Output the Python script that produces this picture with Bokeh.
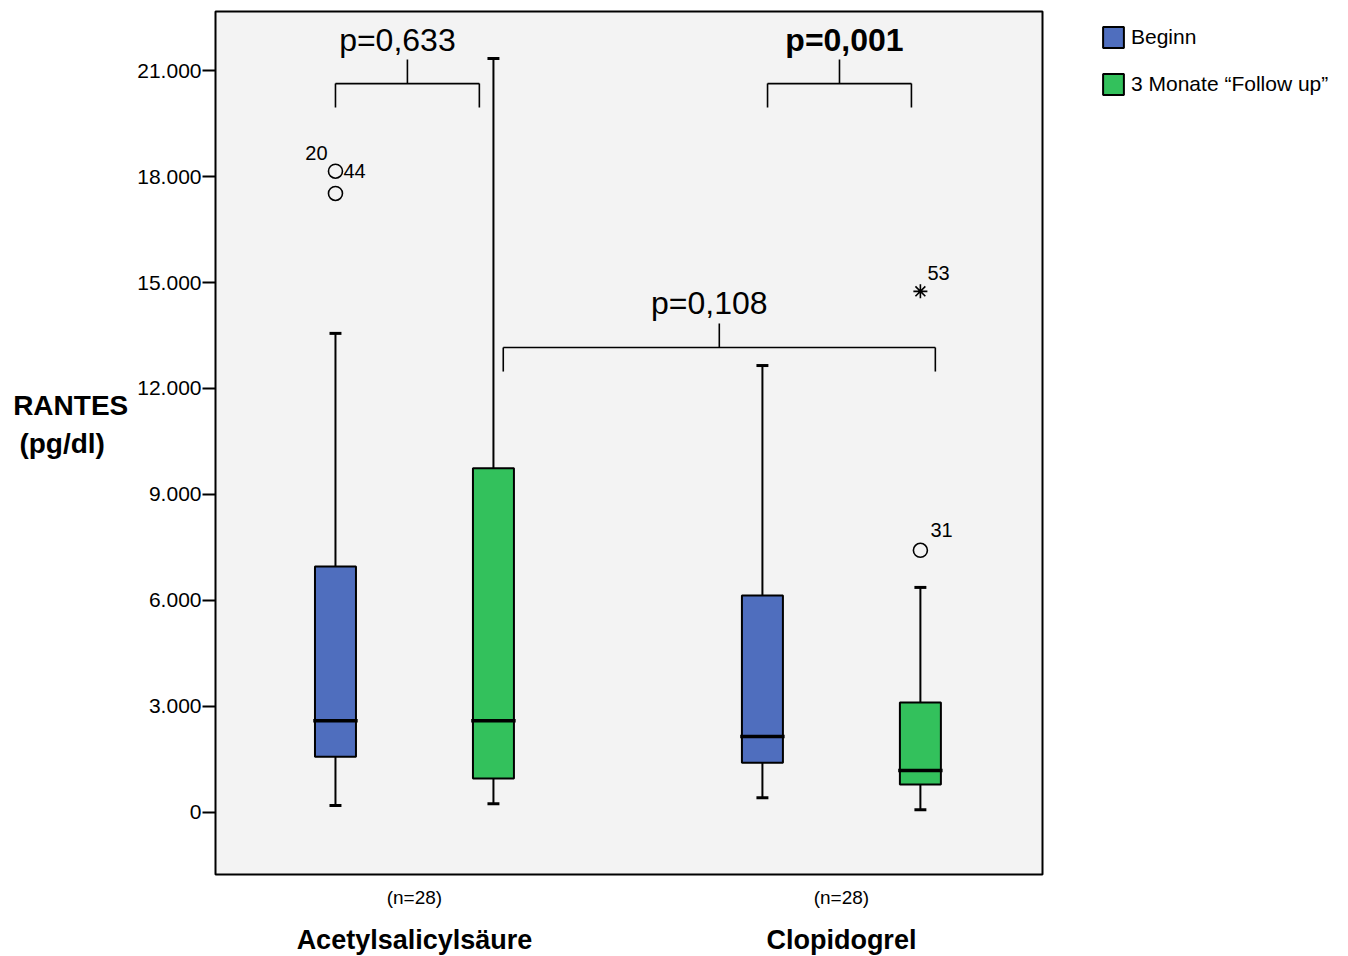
from bokeh.plotting import figure
from bokeh.models import (Range1d, FixedTicker, LinearAxis, Legend,
                          LegendItem, ColumnDataSource)
from bokeh.core.properties import value
from bokeh.embed import file_html
from bokeh.resources import INLINE

FONT = "Liberation Sans"
NB = "\u00a0"

# ---------------- data ----------------
groups = ["Acetylsalicylsäure", "Clopidogrel"]
group_n = ["(n=28)", "(n=28)"]
series = ["Beginn", "3 Monate \u201cFollow up\u201d"]
series_colors = ["#4f6ebe", "#33c15c"]
y_title_lines = ["RANTES", "(pg/dl)"]

box_group = [0, 0, 1, 1]
box_series = [0, 1, 0, 1]
whisker_low = [200, 250, 420, 80]
q1 = [1580, 960, 1410, 790]
median = [2600, 2600, 2150, 1190]
q3 = [6960, 9740, 6140, 3110]
whisker_high = [13560, 21340, 12650, 6370]

out_box = [0, 0, 3, 3]
out_value = [18150, 17520, 7420, 14750]
out_label = ["44", "20", "31", "53"]
out_marker = ["circle", "circle", "circle", "asterisk"]
out_label_dx = [8, -19, 10, 7]
out_label_dy = [0, -40, -20, -18]
out_label_align = ["left", "center", "left", "left"]

tick_values = [0, 3000, 6000, 9000, 12000, 15000, 18000, 21000]
tick_labels = ["0", "3.000", "6.000", "9.000", "12.000", "15.000", "18.000", "21.000"]

br_left = [-0.185, 0.827, 0.208]
br_right = [0.152, 1.164, 1.220]
br_y = [20630, 20630, 13160]
br_text = ["p=0,633", "p=0,001", "p=0,108"]
br_style = ["normal", "bold", "normal"]
br_text_dx = [-10, 5, -10]

# ---------------- layout constants ----------------
series_offset = [-0.185, 0.185]
box_w = 0.096
cap_w = 0.028
drop = 680

p = figure(frame_width=827, frame_height=863, width=1348, height=956,
           x_range=Range1d(-0.466, 1.471), y_range=Range1d(-1755, 22670),
           x_axis_location=None, y_axis_location="left",
           output_backend="svg", toolbar_location=None,
           min_border_left=215, min_border_top=11, min_border_right=306,
           min_border_bottom=82)
p.background_fill_color = "#f3f3f3"
p.border_fill_color = "white"
p.outline_line_color = "black"
p.outline_line_width = 2
p.xgrid.visible = False
p.ygrid.visible = False

ya = p.yaxis[0]
ya.ticker = FixedTicker(ticks=tick_values)
ya.major_label_overrides = {v: s for v, s in zip(tick_values, tick_labels)}
ya.axis_line_color = None
ya.major_tick_in = 0
ya.major_tick_out = 13
ya.major_tick_line_width = 2
ya.minor_tick_line_color = None
ya.major_label_text_font = FONT
ya.major_label_text_font_size = "21px"
ya.major_label_text_color = "black"
ya.major_label_standoff = 1
# second line padded so the two lines look centred; blank last line lifts the block
ya.axis_label = y_title_lines[0] + "\n" + y_title_lines[1] + NB * 3 + "\n" + NB
ya.axis_label_orientation = "horizontal"
ya.axis_label_text_font = FONT
ya.axis_label_text_font_size = "28px"
ya.axis_label_text_font_style = "bold"
ya.axis_label_text_color = "black"
ya.axis_label_standoff = 6
ya.axis_label_text_align = "center"

for labels, size, style, standoff in [(group_n, "19px", "normal", 12),
                                      (groups, "27px", "bold", 14)]:
    ax = LinearAxis(ticker=FixedTicker(ticks=[0, 1]),
                    major_label_overrides={i: t for i, t in enumerate(labels)},
                    axis_line_color=None, major_tick_line_color=None,
                    major_tick_out=0, major_tick_in=0,
                    minor_tick_line_color=None,
                    major_label_text_font=FONT,
                    major_label_text_font_size=size,
                    major_label_text_font_style=style,
                    major_label_text_color="black",
                    major_label_standoff=standoff)
    p.add_layout(ax, "below")

def bx(i):
    return box_group[i] + series_offset[box_series[i]]

legend_items = []
for s in range(len(series)):
    idx = [i for i in range(len(box_group)) if box_series[i] == s]
    xs = [bx(i) for i in idx]
    src = ColumnDataSource(dict(
        x=xs,
        lo=[whisker_low[i] for i in idx], q1=[q1[i] for i in idx],
        med=[median[i] for i in idx], q3=[q3[i] for i in idx],
        hi=[whisker_high[i] for i in idx],
        cl=[x - cap_w / 2 for x in xs], cr=[x + cap_w / 2 for x in xs],
        ml=[x - box_w / 2 - 0.004 for x in xs], mr=[x + box_w / 2 + 0.004 for x in xs],
    ))
    p.segment(x0="x", y0="q3", x1="x", y1="hi", source=src, line_color="black", line_width=2)
    p.segment(x0="x", y0="q1", x1="x", y1="lo", source=src, line_color="black", line_width=2)
    p.segment(x0="cl", y0="hi", x1="cr", y1="hi", source=src, line_color="black", line_width=3)
    p.segment(x0="cl", y0="lo", x1="cr", y1="lo", source=src, line_color="black", line_width=3)
    r = p.vbar(x="x", width=box_w, bottom="q1", top="q3", source=src,
               fill_color=series_colors[s], line_color="black", line_width=2)
    p.segment(x0="ml", y0="med", x1="mr", y1="med", source=src, line_color="black", line_width=3.5)
    legend_items.append(LegendItem(label=series[s], renderers=[r]))

# outliers
osrc = ColumnDataSource(dict(
    x=[bx(b) for b in out_box], y=out_value, label=out_label, marker=out_marker,
    dx=out_label_dx, dy=out_label_dy, align=out_label_align))
p.scatter(x="x", y="y", marker="marker", source=osrc, size=14, fill_color=None,
          line_color="black", line_width=1.6)
p.text(x="x", y="y", text="label", x_offset="dx", y_offset="dy", text_align="align",
       text_baseline="middle", source=osrc, text_font=value(FONT),
       text_font_size="20px", text_color="black")

# brackets
bsrc = ColumnDataSource(dict(
    l=br_left, r=br_right, y=br_y, ylo=[y - drop for y in br_y],
    yhi=[y + drop for y in br_y], c=[(a + b) / 2 for a, b in zip(br_left, br_right)],
    text=br_text, style=br_style, dx=br_text_dx))
p.segment(x0="l", y0="y", x1="r", y1="y", source=bsrc, line_color="black", line_width=1.6)
p.segment(x0="l", y0="y", x1="l", y1="ylo", source=bsrc, line_color="black", line_width=1.6)
p.segment(x0="r", y0="y", x1="r", y1="ylo", source=bsrc, line_color="black", line_width=1.6)
p.segment(x0="c", y0="y", x1="c", y1="yhi", source=bsrc, line_color="black", line_width=1.6)
p.text(x="c", y="yhi", text="text", x_offset="dx", y_offset=-20, text_align="center",
       text_baseline="alphabetic", source=bsrc, text_font=value(FONT),
       text_font_size="32px", text_font_style="style", text_color="black")

legend = Legend(items=legend_items, location=(58, 777), orientation="vertical",
                glyph_width=26, glyph_height=26, spacing=21, padding=4, margin=0,
                label_standoff=5, label_text_font=FONT, label_text_font_size="21px",
                label_text_color="black", border_line_color=None,
                background_fill_alpha=0)
p.add_layout(legend, "right")

open("out.html", "w").write(file_html(p, INLINE))
